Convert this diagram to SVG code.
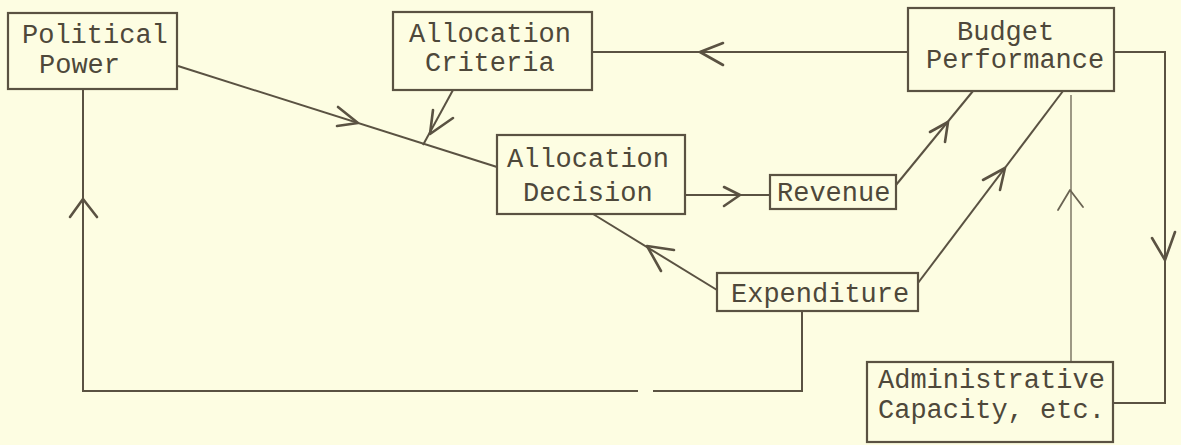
<svg xmlns="http://www.w3.org/2000/svg" width="1181" height="445" viewBox="0 0 1181 445">
<style>
.box{fill:none;stroke:#5a5242;stroke-width:2.2}
.ln{fill:none;stroke:#5a5242;stroke-width:2}
.thin{fill:none;stroke:#6a6352;stroke-width:1.3}
.ah{fill:none;stroke:#5a5242;stroke-width:2.6;stroke-linecap:round;stroke-linejoin:round}
.ahthin{fill:none;stroke:#6a6352;stroke-width:1.8;stroke-linecap:round;stroke-linejoin:round}
text{font-family:"Liberation Mono","DejaVu Sans Mono",monospace;font-size:27px;fill:#4e483a}
</style>
<rect width="1181" height="445" fill="#FDFDE2"/>
<g id="connectors">
<path class="ln" d="M178,66 L497,167"/>
<path class="ln" d="M453,90 L423,145"/>
<path class="ln" d="M908,52 L592,52"/>
<path class="ln" d="M685,195 L770,195"/>
<path class="ln" d="M717,290 L593,214"/>
<path class="ln" d="M896,185 L973,91"/>
<path class="ln" d="M918,283 L1063,91"/>
<path class="thin" d="M1071,95 L1071,362"/>
<path class="ln" d="M1114,52 L1165,52 L1165,403 L1113,403"/>
<path class="ln" d="M802,311 L802,391 L653,391 M638,391 L83,391 L83,89"/>
<path class="ah" d="M338,107 L358,123 L337,126"/>
<path class="ah" d="M433,110 L430,134 L453,118"/>
<path class="ah" d="M723,43 L700,52 L723,65"/>
<path class="ah" d="M724,187 L740,195 L724,206"/>
<path class="ah" d="M674,250 L647,246 L661,271"/>
<path class="ah" d="M930,132 L948,122 L945,142"/>
<path class="ah" d="M983,180 L1005,168 L1000,190"/>
<path class="ahthin" d="M1058,210 L1070,190 L1083,207"/>
<path class="ah" d="M1152,238 L1165,260 L1175,232"/>
<path class="ah" d="M70,217 L83,199 L97,217"/>
</g>
<g id="political-power">
<rect class="box" x="8" y="13" width="169" height="76"/>
<text x="22" y="43">Political</text>
<text x="39" y="73">Power</text>
</g>
<g id="allocation-criteria">
<rect class="box" x="393" y="12" width="199" height="78"/>
<text x="409" y="42">Allocation</text>
<text x="425" y="71">Criteria</text>
</g>
<g id="budget-performance">
<rect class="box" x="908" y="8" width="206" height="83"/>
<text x="957" y="40">Budget</text>
<text x="926" y="68">Performance</text>
</g>
<g id="allocation-decision">
<rect class="box" x="497" y="135" width="188" height="79"/>
<text x="507" y="167">Allocation</text>
<text x="523" y="201">Decision</text>
</g>
<g id="revenue">
<rect class="box" x="770" y="175" width="126" height="34"/>
<text x="777" y="201">Revenue</text>
</g>
<g id="expenditure">
<rect class="box" x="717" y="273" width="201" height="38"/>
<text x="731" y="302">Expenditure</text>
</g>
<g id="administrative-capacity">
<rect class="box" x="867" y="362" width="246" height="80"/>
<text x="878" y="388">Administrative</text>
<text x="878" y="418">Capacity, etc.</text>
</g>
</svg>
